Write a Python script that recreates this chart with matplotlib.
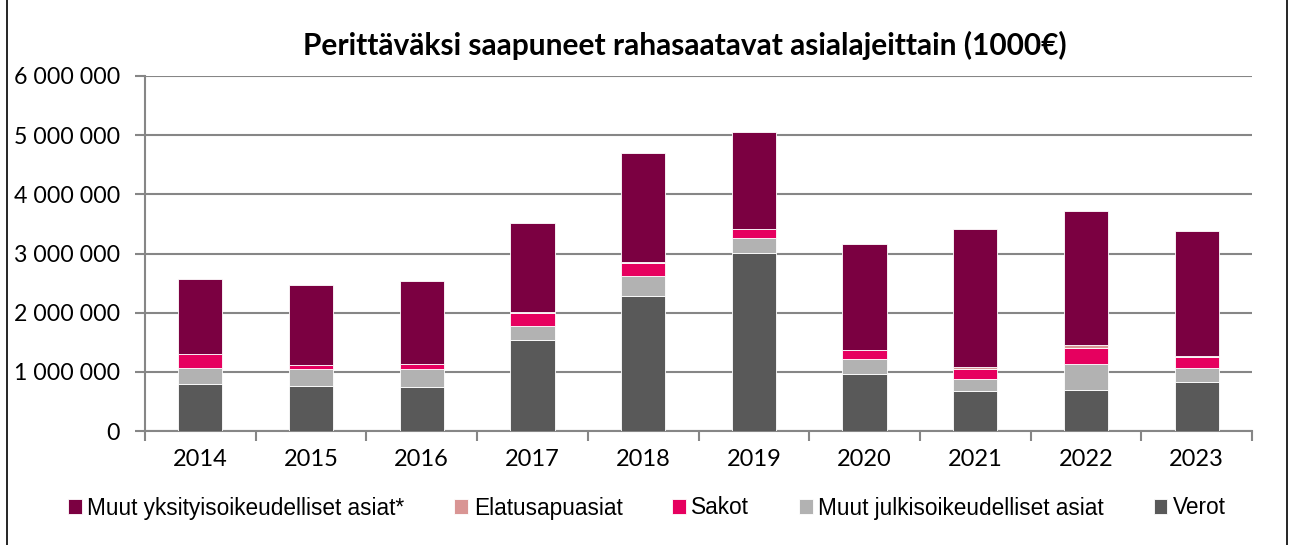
import numpy as np
import matplotlib
matplotlib.use("Agg")
import matplotlib.pyplot as plt
from matplotlib.patches import Rectangle
from matplotlib.ticker import FuncFormatter

years = ['2014', '2015', '2016', '2017', '2018', '2019', '2020', '2021', '2022', '2023']

# stacked from bottom to top
verot = [800000, 757000, 740000, 1534000, 2277000, 3015000, 960000, 673000, 696000, 820000]
muut_julk = [273000, 283000, 305000, 236000, 350000, 255000, 253000, 214000, 444000, 240000]
sakot = [220000, 70000, 82000, 227000, 213000, 140000, 154000, 153000, 265000, 187000]
elatus = [11000, 8000, 8000, 10000, 10000, 10000, 10000, 38000, 51000, 28000]
muut_yks = [1272000, 1352000, 1402000, 1510000, 1850000, 1630000, 1790000, 2342000, 2264000, 2112000]

series = [
    ('Verot', verot, '#595959'),
    ('Muut julkisoikeudelliset asiat', muut_julk, '#b2b2b2'),
    ('Sakot', sakot, '#e6005f'),
    ('Elatusapuasiat', elatus, '#d99594'),
    ('Muut yksityisoikeudelliset asiat*', muut_yks, '#7b0041'),
]

plt.rcParams['font.family'] = ['Lato', 'DejaVu Sans']

fig = plt.figure(figsize=(12.96, 5.45), dpi=100)
ax = fig.add_axes([145/1296, 114/545, 1107/1296, 355/545])

x = np.arange(len(years))
bottom = np.zeros(len(years))
handles = {}
for name, vals, col in series:
    b = ax.bar(x, vals, width=0.4, bottom=bottom, color=col, edgecolor='white',
               linewidth=0.6, zorder=3, label=name)
    handles[name] = b
    bottom += np.array(vals)

ax.set_xlim(-0.5, 9.5)
ax.set_ylim(0, 6000000)
ax.set_yticks(np.arange(0, 6000001, 1000000))
ax.yaxis.set_major_formatter(FuncFormatter(lambda v, p: f"{int(v):,}".replace(',', ' ')))
ax.set_xticks(x)
ax.set_xticklabels(years)
ax.set_xticks(np.arange(-0.5, 10, 1), minor=True)
ax.tick_params(axis='x', which='major', length=0, labelsize=17, pad=13)
ax.tick_params(axis='x', which='minor', length=7, width=1.5, color='#868686', direction='out')
ax.tick_params(axis='y', length=7, width=1.5, color='#868686', labelsize=16.7, pad=11)

ax.grid(axis='y', color='#868686', linewidth=1.5, zorder=0)
for s in ['top', 'right']:
    ax.spines[s].set_visible(False)
for s in ['left', 'bottom']:
    ax.spines[s].set_color('#868686')
    ax.spines[s].set_linewidth(1.5)

fig.text(685/1296, 1 - 45/545, 'Perittäväksi saapuneet rahasaatavat asialajeittain (1000€)',
         ha='center', va='center', fontsize=21.5, fontweight='bold')

order = ['Muut yksityisoikeudelliset asiat*', 'Elatusapuasiat', 'Sakot',
         'Muut julkisoikeudelliset asiat', 'Verot']
fig.legend([handles[n] for n in order], order, loc='center', ncol=5,
           bbox_to_anchor=(647/1296, 1 - 508/545), frameon=False,
           prop={'family': 'Liberation Sans', 'size': 16.3},
           handlelength=0.6, handleheight=0.6, handletextpad=0.25, columnspacing=2.2)

fig.patches.append(Rectangle((7/1296, -0.01), 1280/1296, 1.02, transform=fig.transFigure,
                             fill=False, edgecolor='black', linewidth=1.2))

fig.savefig('out.png', dpi=100)
